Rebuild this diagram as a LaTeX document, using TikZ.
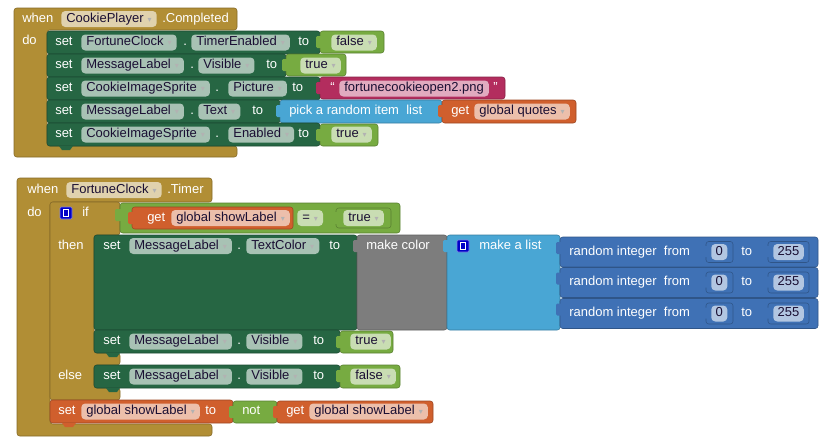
\documentclass[tikz,border=0pt]{standalone}
\usepackage{fontspec}
\setmainfont{Liberation Sans}
\newfontfamily\arrowfont{DejaVu Sans}
\usetikzlibrary{positioning}
\definecolor{evgold}{HTML}{B18E35}
\definecolor{setgreen}{HTML}{266643}
\definecolor{logicgreen}{HTML}{77AB41}
\definecolor{textpink}{HTML}{B32D5E}
\definecolor{listblue}{HTML}{49A6D4}
\definecolor{varorange}{HTML}{D05F2D}
\definecolor{mathblue}{HTML}{3F71B5}
\definecolor{colorgray}{HTML}{7D7D7D}
\definecolor{mutblue}{HTML}{0000C8}
\definecolor{fldtext}{HTML}{1A0F33}
\newcommand{\dd}{\hspace{3pt}{\arrowfont\fontsize{6}{6}\selectfont\textcolor{black!30}{▾}}}
\tikzset{
  blk/.style={fill=#1, draw=#1!75!black, line width=0.4pt, rounded corners=2pt},
  plug/.style={fill=#1, rounded corners=1pt},
  word/.style={text=white, anchor=west, inner sep=0pt, text height=7pt, text depth=2pt},
  fld/.style={fill=#1!40!white, text=fldtext, anchor=west, rounded corners=3pt, inner xsep=3.8pt, inner ysep=0pt, minimum height=12pt, text height=7pt, text depth=2pt},
  num/.style={fld=mathblue, inner xsep=3.3pt},
  every node/.append style={font=\fontsize{9.75}{11}\selectfont}
}

\begin{document}
\begin{tikzpicture}[x=0.75pt, y=-0.75pt]
\useasboundingbox (0,0) rectangle (826,440);
% when CookiePlayer.Completed
\filldraw[blk=evgold] (14,8) -- (237,8) -- (237,30) -- (47,30) -- (47,146) -- (237,146) -- (237,157) -- (14,157) -- cycle;
\node[word] (whenA) at (22,19) {when};
\node[fld=evgold] (evcompA) at (61,19) {CookiePlayer\dd};
\node[word] (eventA) at (162,19) {.Completed};
\node[word] (doA) at (22,41) {do};

\filldraw[blk=setgreen] (47,31) rectangle (320,54);
\filldraw[blk=logicgreen] (320,31) rectangle (384,53);
\fill[plug=logicgreen] (316,36) rectangle (323,48);
\node[word] (setA1) at (55,42.5) {set};
\node[fld=setgreen] (compA1) at (81,42.5) {FortuneClock\dd};
\node[word] (dotA1) at (183,42.5) {.};
\node[fld=setgreen] (propA1) at (191,42.5) {TimerEnabled\dd};
\node[word] (toA1) at (298,42.5) {to};
\node[fld=logicgreen] (valA1) at (331,42.5) {false\dd};

\filldraw[blk=setgreen] (47,54) rectangle (286,77);
\filldraw[blk=logicgreen] (286,54) rectangle (346,76);
\fill[plug=logicgreen] (282,59) rectangle (289,71);
\node[word] (setA2) at (55,65.5) {set};
\node[fld=setgreen] (compA2) at (81,65.5) {MessageLabel\dd};
\node[word] (dotA2) at (190,65.5) {.};
\node[fld=setgreen] (propA2) at (198,65.5) {Visible\dd};
\node[word] (toA2) at (266,65.5) {to};
\node[fld=logicgreen] (valA2) at (300,65.5) {true\dd};

\filldraw[blk=setgreen] (47,77) rectangle (320,100);
\filldraw[blk=textpink] (320,77) rectangle (505,99);
\fill[plug=textpink] (316,82) rectangle (323,94);
\node[word] (setA3) at (55,88.5) {set};
\node[fld=setgreen] (compA3) at (81,88.5) {CookieImageSprite\dd};
\node[word] (dotA3) at (215,88.5) {.};
\node[fld=setgreen] (propA3) at (228,88.5) {Picture\dd};
\node[word] (toA3) at (292,88.5) {to};
\node[word] (lquoteA3) at (330,88.5) {“};
\node[fld=textpink] (valA3) at (339,88.5) {fortunecookieopen2.png};
\node[word] (rquoteA3) at (493,88.5) {”};

\filldraw[blk=setgreen] (47,100) rectangle (280,123);
\filldraw[blk=listblue] (280,100) rectangle (442,123);
\fill[plug=listblue] (276,105) rectangle (283,117);
\filldraw[blk=varorange] (442,100) rectangle (576,123);
\fill[plug=varorange] (438,105) rectangle (445,117);
\node[word] (setA4) at (55,111.5) {set};
\node[fld=setgreen] (compA4) at (81,111.5) {MessageLabel\dd};
\node[word] (dotA4) at (190,111.5) {.};
\node[fld=setgreen] (propA4) at (198,111.5) {Text\dd};
\node[word] (toA4) at (252,111.5) {to};
\node[word] (pickA4) at (289,111.5) {pick a random item\ \ list};
\node[word] (getA4) at (451,111.5) {get};
\node[fld=varorange] (varA4) at (474,111.5) {global quotes\dd};

\filldraw[blk=setgreen] (47,123) rectangle (320,146);
\fill[setgreen] (59,146) -- (62,150) -- (70,150) -- (73,146) -- cycle;
\filldraw[blk=logicgreen] (320,124) rectangle (378,146);
\fill[plug=logicgreen] (316,129) rectangle (323,141);
\node[word] (setA5) at (55,134.5) {set};
\node[fld=setgreen] (compA5) at (81,134.5) {CookieImageSprite\dd};
\node[word] (dotA5) at (215,134.5) {.};
\node[fld=setgreen] (propA5) at (228,134.5) {Enabled\dd};
\node[word] (toA5) at (298,134.5) {to};
\node[fld=logicgreen] (valA5) at (331,134.5) {true\dd};

% when FortuneClock.Timer
\filldraw[blk=evgold] (17,178) -- (212,178) -- (212,202) -- (50,202) -- (50,424) -- (212,424) -- (212,436) -- (17,436) -- cycle;
\node[word] (whenB) at (27,190) {when};
\node[fld=evgold] (evcompB) at (66,190) {FortuneClock\dd};
\node[word] (eventB) at (167,190) {.Timer};
\node[word] (doB) at (27,213) {do};

\filldraw[blk=evgold] (50,202) -- (120,202) -- (120,235) -- (94,235) -- (94,353) -- (120,353) -- (120,365) -- (94,365) -- (94,388) -- (120,388) -- (120,400) -- (50,400) -- cycle;
\filldraw[fill=mutblue, draw=mutblue!50!white, rounded corners=1pt] (60,207) rectangle (72,219);
\draw[white, line width=0.6pt] (63.8,209.5) rectangle (68.2,216.5);
\node[word] (ifB) at (82,213) {if};
\node[word] (thenB) at (58,246) {then};
\node[word] (elseB) at (58,376) {else};

\filldraw[blk=logicgreen] (120,203) rectangle (400,233);
\fill[plug=logicgreen] (115,209) rectangle (122,221);
\filldraw[blk=varorange] (132,207) rectangle (293,229);
\fill[plug=varorange] (128,212) rectangle (135,224);
\node[word] (getB) at (147,218) {get};
\node[fld=varorange] (varB) at (171,218) {global showLabel\dd};
\node[fld=logicgreen] (opB) at (297,218) {=\dd};
\filldraw[blk=logicgreen] (336,208) rectangle (391,228);
\fill[plug=logicgreen] (332,212) rectangle (339,224);
\node[fld=logicgreen] (cmpB) at (343,218) {true\dd};

\filldraw[blk=setgreen] (94,235) rectangle (357,330);
\node[word] (setB1) at (103,246) {set};
\node[fld=setgreen] (compB1) at (129,246) {MessageLabel\dd};
\node[word] (dotB1) at (237,246) {.};
\node[fld=setgreen] (propB1) at (246,246) {TextColor\dd};
\node[word] (toB1) at (329,246) {to};
\filldraw[blk=colorgray] (357,235) rectangle (447,330);
\fill[plug=colorgray] (353,240) rectangle (360,252);
\node[word] (colorB) at (366,246) {make color};
\filldraw[blk=listblue] (447,235) rectangle (560,330);
\fill[plug=listblue] (443,240) rectangle (450,252);
\filldraw[fill=mutblue, draw=mutblue!50!white, rounded corners=1pt] (457,240) rectangle (469,252);
\draw[white, line width=0.6pt] (460.8,242.5) rectangle (465.2,249.5);
\node[word] (listB) at (479,246) {make a list};

\foreach \r/\c in {1/252,2/282.5,3/313.5} {
  \filldraw[blk=mathblue] (560,\c-15) rectangle (818,\c+15);
  \fill[plug=mathblue] (556,\c-10) rectangle (563,\c+2);
  \node[word] (randB\r) at (569,\c) {random integer\ \ from};
  \filldraw[blk=mathblue] (706,\c-10.5) rectangle (733,\c+10.5);
  \fill[plug=mathblue] (702,\c-6) rectangle (709,\c+5);
  \node[num] (fromB\r) at (711,\c) {0};
  \node[word] (toR\r) at (741,\c) {to};
  \filldraw[blk=mathblue] (768,\c-10.5) rectangle (809,\c+10.5);
  \fill[plug=mathblue] (764,\c-6) rectangle (771,\c+5);
  \node[num] (uptoB\r) at (773,\c) {255};
}

\filldraw[blk=setgreen] (94,330) rectangle (340,353);
\fill[setgreen] (106,353) -- (109,357) -- (117,357) -- (120,353) -- cycle;
\filldraw[blk=logicgreen] (340,331) rectangle (393,353);
\fill[plug=logicgreen] (336,336) rectangle (343,348);
\node[word] (setB2) at (103,341.5) {set};
\node[fld=setgreen] (compB2) at (129,341.5) {MessageLabel\dd};
\node[word] (dotB2) at (237,341.5) {.};
\node[fld=setgreen] (propB2) at (246,341.5) {Visible\dd};
\node[word] (toB2) at (313,341.5) {to};
\node[fld=logicgreen] (valB2) at (350,341.5) {true\dd};

\filldraw[blk=setgreen] (94,365) rectangle (340,388);
\fill[setgreen] (106,388) -- (109,392) -- (117,392) -- (120,388) -- cycle;
\filldraw[blk=logicgreen] (340,365) rectangle (400,388);
\fill[plug=logicgreen] (336,370) rectangle (343,382);
\node[word] (setB3) at (103,376.5) {set};
\node[fld=setgreen] (compB3) at (129,376.5) {MessageLabel\dd};
\node[word] (dotB3) at (237,376.5) {.};
\node[fld=setgreen] (propB3) at (246,376.5) {Visible\dd};
\node[word] (toB3) at (313,376.5) {to};
\node[fld=logicgreen] (valB3) at (350,376.5) {false\dd};

\filldraw[blk=varorange] (50,400) rectangle (233,423);
\fill[varorange] (62,423) -- (65,427) -- (73,427) -- (76,423) -- cycle;
\node[word] (setB4) at (58,411.5) {set};
\node[fld=varorange] (varB4) at (81,411.5) {global showLabel\dd};
\node[word] (toB4) at (205,411.5) {to};
\filldraw[blk=logicgreen] (233,401) rectangle (277,423);
\fill[plug=logicgreen] (229,406) rectangle (236,418);
\node[word] (notB4) at (242,411.5) {not};
\filldraw[blk=varorange] (277,401) rectangle (433,423);
\fill[plug=varorange] (273,406) rectangle (280,418);
\node[word] (getB4) at (286,411.5) {get};
\node[fld=varorange] (varB5) at (309,411.5) {global showLabel\dd};
\end{tikzpicture}
\end{document}
